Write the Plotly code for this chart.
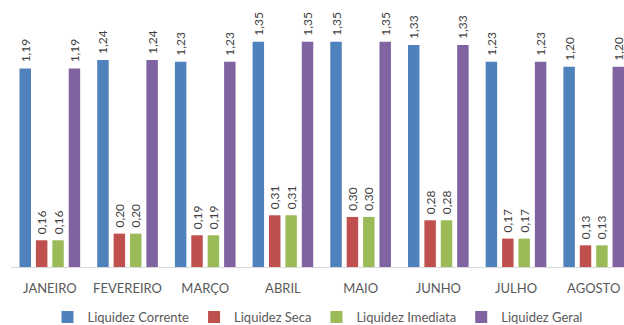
import plotly.graph_objects as go

meses = ["JANEIRO", "FEVEREIRO", "MARÇO", "ABRIL", "MAIO", "JUNHO", "JULHO", "AGOSTO"]
liquidez_corrente = [1.19, 1.24, 1.23, 1.35, 1.35, 1.33, 1.23, 1.20]
liquidez_seca = [0.16, 0.20, 0.19, 0.31, 0.30, 0.28, 0.17, 0.13]
liquidez_imediata = [0.16, 0.20, 0.19, 0.31, 0.30, 0.28, 0.17, 0.13]
liquidez_geral = [1.19, 1.24, 1.23, 1.35, 1.35, 1.33, 1.23, 1.20]

series = [
    ("Liquidez Corrente", liquidez_corrente, "#4F81BD"),
    ("Liquidez Seca", liquidez_seca, "#C0504D"),
    ("Liquidez Imediata", liquidez_imediata, "#9BBB59"),
    ("Liquidez Geral", liquidez_geral, "#8064A2"),
]

FONT = "Lato, 'Open Sans', sans-serif"

fig = go.Figure()
for nome, valores, cor in series:
    fig.add_trace(go.Bar(
        x=list(range(len(meses))),
        y=valores,
        name=nome,
        marker=dict(color=cor, line=dict(width=0)),
        texttemplate="\u00a0%{y:.2f}",
        textposition="outside",
        textangle=-90,
        textfont=dict(family=FONT, size=12, color="#404040"),
        cliponaxis=False,
    ))

fig.update_layout(
    width=624,
    height=325,
    margin=dict(l=11, r=0, t=0, b=58, autoexpand=False),
    paper_bgcolor="white",
    plot_bgcolor="white",
    separators=",.",
    barmode="group",
    bargap=0.156,
    bargroupgap=0.3,
    uniformtext=dict(minsize=12, mode="show"),
    font=dict(family=FONT, size=13, color="#595959"),
    xaxis=dict(
        tickmode="array",
        tickvals=list(range(len(meses))),
        ticktext=meses,
        range=[-0.5, 7.39],
        showline=True,
        linecolor="#D9D9D9",
        linewidth=1,
        ticks="",
        showgrid=False,
        zeroline=False,
        ticklabelstandoff=9,
        tickfont=dict(family=FONT, size=13, color="#595959"),
    ),
    yaxis=dict(
        range=[0, 1.6],
        visible=False,
        showgrid=False,
        zeroline=False,
    ),
    legend=dict(
        orientation="h",
        x=0.5,
        xanchor="center",
        y=-0.187,
        yanchor="middle",
        font=dict(family=FONT, size=13, color="#595959"),
        itemwidth=30,
    ),
    showlegend=True,
)

fig.write_html("out.html")
